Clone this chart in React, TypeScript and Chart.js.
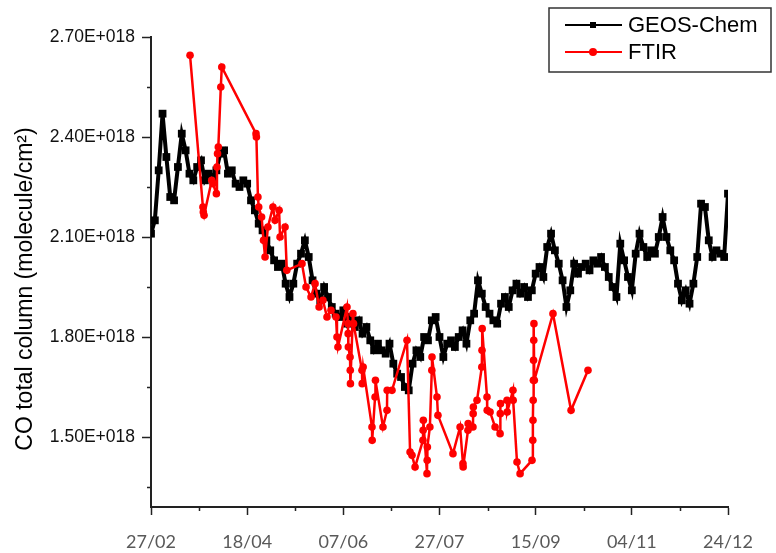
import React, { useEffect, useRef } from 'react';
import { Chart, registerables } from 'chart.js';

Chart.register(...registerables);

// x axis: days counted from 27/02
const xTickDays = [0, 50, 100, 150, 200, 250, 300];
const xTickLabels = ['27/02', '18/04', '07/06', '27/07', '15/09', '04/11', '24/12'];
const xMinorDays = [25, 75, 125, 175, 225, 275];
// y axis in units of 1E+018 molecule/cm2
const yTicks = [1.5, 1.8, 2.1, 2.4, 2.7];
const yMinor = [1.35, 1.65, 1.95, 2.25, 2.55];

const geosDays = [
  0, 2, 4, 6, 8, 10, 12, 14, 16, 18, 20, 22, 24, 26, 28, 30, 32, 34, 36, 38,
  40, 42, 44, 46, 48, 50, 52, 54, 56, 58, 60, 62, 64, 66, 68, 70, 72, 74, 76, 78,
  80, 82, 84, 86, 88, 90, 92, 94, 96, 98, 100, 102, 104, 106, 108, 110, 112, 114, 116, 118,
  120, 122, 124, 126, 128, 130, 132, 134, 136, 138, 140, 142, 144, 146, 148, 150, 152, 154, 156, 158,
  160, 162, 164, 166, 168, 170, 172, 174, 176, 178, 180, 182, 184, 186, 188, 190, 192, 194, 196, 198,
  200, 202, 204, 206, 208, 210, 212, 214, 216, 218, 220, 222, 224, 226, 228, 230, 232, 234, 236, 238,
  240, 242, 244, 246, 248, 250, 252, 254, 256, 258, 260, 262, 264, 266, 268, 270, 272, 274, 276, 278,
  280, 282, 284, 286, 288, 290, 292, 294, 296, 298, 300,
];
const geosValues = [
  2.11, 2.15, 2.30, 2.47, 2.34, 2.22, 2.21, 2.31, 2.41, 2.36, 2.29, 2.27, 2.31, 2.33, 2.27, 2.29, 2.28, 2.30, 2.35, 2.36,
  2.29, 2.30, 2.26, 2.25, 2.27, 2.26, 2.21, 2.18, 2.14, 2.12, 2.09, 2.06, 2.03, 2.01, 2.02, 1.96, 1.92, 1.96, 2.02, 2.05,
  2.09, 2.04, 1.97, 1.93, 1.91, 1.95, 1.92, 1.89, 1.87, 1.86, 1.88, 1.84, 1.86, 1.83, 1.85, 1.81, 1.83, 1.79, 1.76, 1.78,
  1.76, 1.75, 1.78, 1.72, 1.69, 1.68, 1.65, 1.64, 1.72, 1.76, 1.74, 1.80, 1.79, 1.85, 1.86, 1.80, 1.74, 1.78, 1.79, 1.77,
  1.80, 1.82, 1.78, 1.85, 1.87, 1.97, 1.93, 1.89, 1.87, 1.85, 1.84, 1.90, 1.92, 1.89, 1.94, 1.96, 1.93, 1.95, 1.92, 1.94,
  1.99, 2.01, 1.98, 2.07, 2.11, 2.06, 2.02, 1.97, 1.89, 1.94, 2.02, 1.99, 2.01, 2.02, 2.00, 2.03, 2.02, 2.04, 2.01, 1.98,
  1.95, 1.92, 2.08, 2.03, 1.98, 1.94, 2.05, 2.11, 2.07, 2.04, 2.06, 2.05, 2.10, 2.16, 2.10, 2.06, 2.03, 1.96, 1.91, 1.94,
  1.90, 1.96, 2.04, 2.20, 2.19, 2.09, 2.04, 2.06, 2.05, 2.04, 2.23,
];

const ftirDays = [
  20.3, 27.0, 27.2, 27.6, 31.6, 32.2, 34.0, 34.3, 34.6, 35.0, 36.3, 36.8,
  54.6, 54.8, 55.6, 56.0, 57.5, 58.5, 59.3, 60.8, 63.4, 64.5, 66.6, 67.1, 69.7, 70.6,
  78.5, 80.6, 83.2, 85.3, 87.4, 89.4, 91.5, 93.6, 96.2, 96.7, 97.2,
  101.9, 102.4, 102.5, 102.6, 103.5, 103.6, 103.7, 105.0, 105.3, 109.7, 109.8, 110.3,
  114.9, 115.0, 116.5, 116.7, 120.6, 122.7, 122.8, 125.3, 133.1, 134.7, 135.7, 137.3,
  141.4, 141.5, 141.6, 143.5, 143.6, 143.7, 145.0, 146.0, 146.1, 148.7, 149.2,
  157.0, 160.7, 162.2, 162.3, 164.8, 164.9, 167.4, 167.5, 167.6, 169.5,
  172.0, 172.1, 172.2, 174.7, 174.8, 176.3, 178.9, 181.5, 181.6, 181.7, 185.1, 185.2,
  188.2, 188.3, 190.3, 191.9, 198.1, 198.5, 198.6, 198.7, 198.8, 198.9, 199.0, 199.1, 199.3,
  209.0, 218.4, 227.2,
];
const ftirValues = [
  2.645, 2.19, 2.175, 2.165, 2.27, 2.26, 2.23, 2.31, 2.35, 2.37, 2.55, 2.61,
  2.41, 2.40, 2.22, 2.19, 2.16, 2.09, 2.04, 2.13, 2.19, 2.15, 2.18, 2.10, 2.13, 2.00,
  2.02, 1.95, 1.92, 1.96, 1.89, 1.91, 1.86, 1.88, 1.86, 1.80, 1.77,
  1.89, 1.84, 1.81, 1.77, 1.74, 1.70, 1.66, 1.87, 1.84, 1.70, 1.66, 1.71,
  1.53, 1.49, 1.62, 1.67, 1.53, 1.58, 1.64, 1.64, 1.79, 1.455, 1.445, 1.41,
  1.49, 1.52, 1.55, 1.39, 1.43, 1.47, 1.53, 1.70, 1.74, 1.62, 1.565,
  1.45, 1.53, 1.42, 1.41, 1.52, 1.54, 1.53, 1.57, 1.59, 1.61,
  1.71, 1.76, 1.825, 1.62, 1.58, 1.575, 1.53, 1.51, 1.57, 1.60, 1.61, 1.575,
  1.64, 1.61, 1.425, 1.39, 1.43, 1.49, 1.55, 1.61, 1.67, 1.73, 1.79, 1.84, 1.67,
  1.87, 1.58, 1.70,
];

const seriesNames = ['GEOS-Chem', 'FTIR'];
const yTitle = 'CO total column (molecule/cm\u00B2)';

const ARIAL = '"Liberation Sans", Arial, sans-serif';

const extrasPlugin = {
  id: 'extras',
  afterDraw(chart: any) {
    const { ctx, chartArea, scales } = chart;
    const xs = scales.x;
    const ys = scales.y;
    ctx.save();
    // minor ticks
    ctx.strokeStyle = '#222';
    ctx.lineWidth = 1.5;
    ctx.beginPath();
    xMinorDays.forEach((d) => {
      const px = Math.round(xs.getPixelForValue(d)) + 0.5;
      ctx.moveTo(px, chartArea.bottom);
      ctx.lineTo(px, chartArea.bottom + 4);
    });
    yMinor.forEach((v) => {
      const py = Math.round(ys.getPixelForValue(v)) + 0.5;
      ctx.moveTo(chartArea.left - 4, py);
      ctx.lineTo(chartArea.left, py);
    });
    ctx.stroke();

    // y axis title
    ctx.save();
    ctx.translate(26, 289);
    ctx.rotate(-Math.PI / 2);
    ctx.font = '23px ' + ARIAL;
    ctx.fillStyle = '#000';
    ctx.textAlign = 'center';
    ctx.textBaseline = 'middle';
    ctx.fillText(yTitle, 0, 0);
    ctx.restore();

    // legend
    const lx = 549, ly = 8, lw = 222, lh = 64;
    ctx.fillStyle = '#fff';
    ctx.fillRect(lx, ly, lw, lh);
    ctx.strokeStyle = '#333';
    ctx.lineWidth = 1.5;
    ctx.strokeRect(lx, ly, lw, lh);
    chart.data.datasets.forEach((ds: any, i: number) => {
      const rowY = ly + 17 + i * 27;
      ctx.strokeStyle = ds.borderColor;
      ctx.lineWidth = 2;
      ctx.beginPath();
      ctx.moveTo(lx + 16, rowY);
      ctx.lineTo(lx + 73, rowY);
      ctx.stroke();
      ctx.fillStyle = ds.pointBackgroundColor;
      if (ds.pointStyle === 'rect') {
        ctx.fillRect(lx + 44 - 3, rowY - 3, 6, 6);
      } else {
        ctx.beginPath();
        ctx.arc(lx + 44, rowY, 4, 0, Math.PI * 2);
        ctx.fill();
      }
      ctx.fillStyle = '#000';
      ctx.font = '22px ' + ARIAL;
      ctx.textAlign = 'left';
      ctx.textBaseline = 'middle';
      ctx.fillText(ds.label, lx + 79, rowY + 1);
    });
    ctx.restore();
  },
};

export default function App() {
  const canvasRef = useRef<HTMLCanvasElement | null>(null);

  useEffect(() => {
    document.body.style.margin = '0';
    const canvas = canvasRef.current;
    if (!canvas) return;
    const chart = new Chart(canvas, {
      type: 'line',
      data: {
        datasets: [
          {
            label: seriesNames[0],
            data: geosDays.map((d, i) => ({ x: d, y: geosValues[i] })),
            borderColor: '#000000',
            backgroundColor: '#000000',
            pointBackgroundColor: '#000000',
            borderWidth: 4,
            pointStyle: 'rect',
            pointRadius: 5.5,
            pointBorderWidth: 0,
            tension: 0,
            order: 2,
          },
          {
            label: seriesNames[1],
            data: ftirDays.map((d, i) => ({ x: d, y: ftirValues[i] })),
            borderColor: '#ff0000',
            backgroundColor: '#ff0000',
            pointBackgroundColor: '#ff0000',
            borderWidth: 2.5,
            pointStyle: 'circle',
            pointRadius: 3.8,
            pointBorderWidth: 0,
            tension: 0,
            order: 1,
          },
        ],
      },
      options: {
        responsive: false,
        animation: false,
        events: [],
        layout: { padding: { top: 37, right: 48, left: 0, bottom: 0 } },
        plugins: { legend: { display: false }, tooltip: { enabled: false }, title: { display: false } },
        scales: {
          x: {
            type: 'linear',
            min: 0,
            max: 300,
            afterBuildTicks: (s: any) => {
              s.ticks = xTickDays.map((v) => ({ value: v }));
            },
            afterFit: (s: any) => {
              s.height = 46;
            },
            border: { display: true, color: '#222', width: 2 },
            grid: { display: true, drawOnChartArea: false, drawTicks: true, tickLength: 8, tickColor: '#222', tickWidth: 1.5 },
            ticks: {
              autoSkip: false,
              maxRotation: 0,
              padding: 16,
              color: '#595959',
              font: { family: 'Lato, "Open Sans", sans-serif', size: 18 },
              callback: (v: any) => {
                const i = xTickDays.indexOf(Number(v));
                return i >= 0 ? xTickLabels[i] : '';
              },
            },
          },
          y: {
            type: 'linear',
            min: 1.29,
            max: 2.7,
            afterBuildTicks: (s: any) => {
              s.ticks = yTicks.map((v) => ({ value: v }));
            },
            afterFit: (s: any) => {
              s.width = 151;
            },
            border: { display: true, color: '#222', width: 2 },
            grid: { display: true, drawOnChartArea: false, drawTicks: true, tickLength: 9, tickColor: '#222', tickWidth: 1.5 },
            ticks: {
              padding: 7,
              color: '#111',
              font: { family: ARIAL, size: 17.5 },
              callback: (v: any) => Number(v).toFixed(2) + 'E+018',
            },
          },
        },
      },
      plugins: [extrasPlugin],
    } as any);
    return () => chart.destroy();
  }, []);

  return (
    <div style={{ width: 776, height: 553 }}>
      <canvas ref={canvasRef} width={776} height={553} style={{ width: 776, height: 553, display: 'block' }} />
    </div>
  );
}
